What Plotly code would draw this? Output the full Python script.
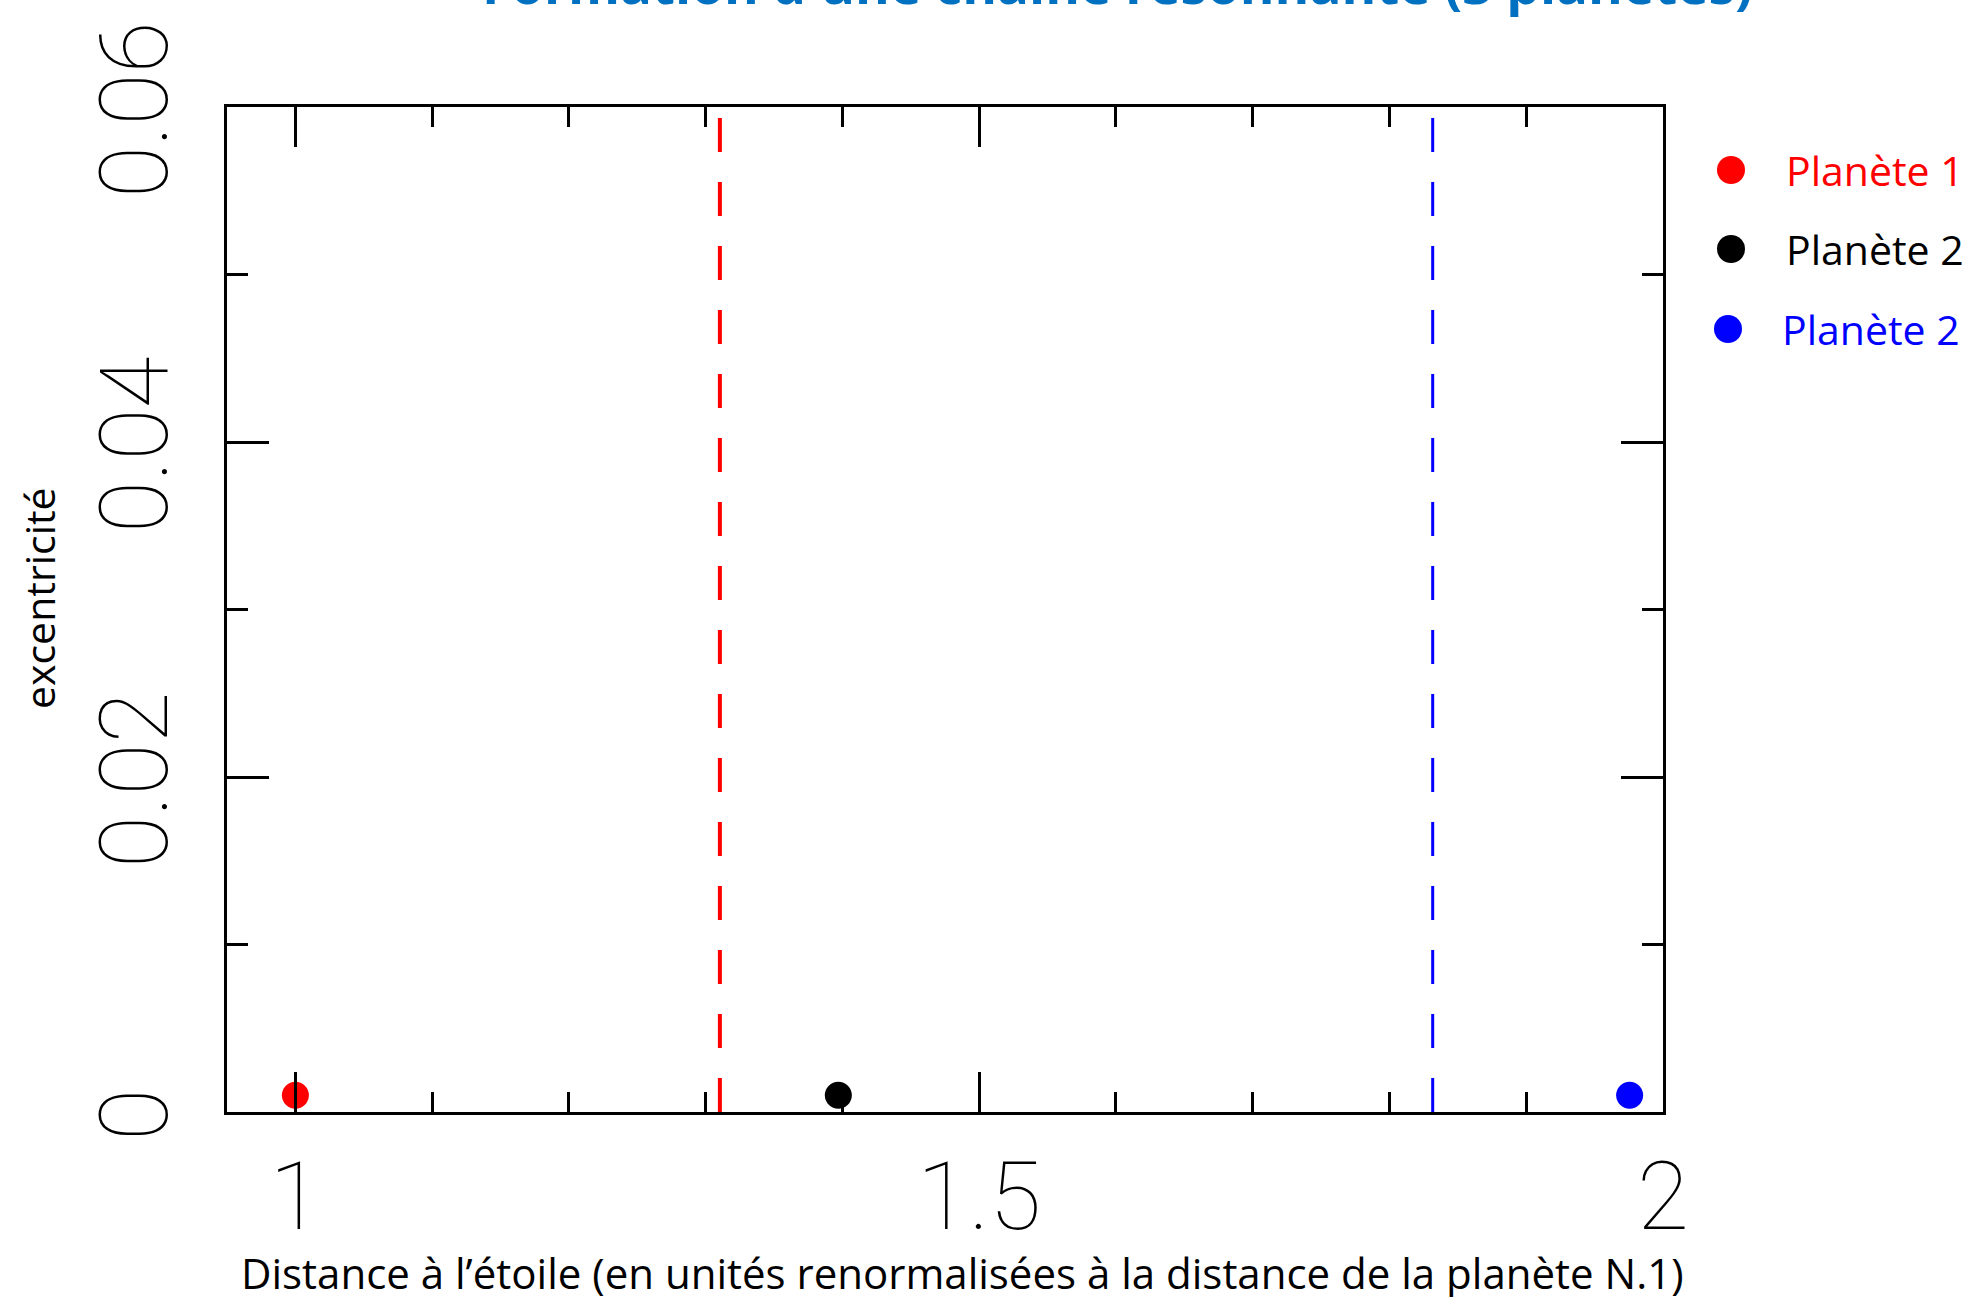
import plotly.graph_objects as go

# ---- data ----
planet_names = ["Planète 1", "Planète 2", "Planète 2"]
planet_colors = ["#FF0000", "#000000", "#0000FF"]
planet_distance = [1.0, 1.397, 1.9756]
planet_ecc = [0.001, 0.001, 0.001]

resonance_x = [1.3104, 1.8316]
resonance_colors = ["#FF0000", "#0000FF"]
resonance_widths = [4, 3]
ecc_span = [0.0, 0.06]

x_tickvals = [1, 1.5, 2]
x_ticktext = ["1", "1.5", "2"]
y_tickvals = [0, 0.02, 0.04, 0.06]
y_ticktext = ["0", "0.02", "0.04", "0.06"]

title_text = "Formation d'une chaîne résonnante (3 planètes)"
x_title = "Distance à l’étoile (en unités renormalisées à la distance de la planète N.1)"
y_title = "excentricité"

W, H = 1975, 1297
ML, MR, MT, MB = 227, 312, 107, 185
PW = W - ML - MR
PH = H - MT - MB

def px_x(p):
    return (p - ML) / PW

def px_y(p):
    return (H - MB - p) / PH

fig = go.Figure()

for xr, c, w in zip(resonance_x, resonance_colors, resonance_widths):
    fig.add_trace(go.Scatter(
        x=[xr, xr], y=ecc_span, mode="lines",
        line=dict(color=c, width=w, dash="34px,30px"),
        showlegend=False, hoverinfo="skip"))

for name, c, xv, yv in zip(planet_names, planet_colors, planet_distance, planet_ecc):
    fig.add_trace(go.Scatter(
        x=[xv], y=[yv], mode="markers", name=name,
        marker=dict(color=c, size=27, line=dict(width=0)),
        showlegend=False, cliponaxis=False))

tick_font = dict(family="Roboto, Liberation Sans, sans-serif", size=95, color="black", weight=100)
label_font = "Open Sans, Lato, sans-serif"

fig.update_xaxes(
    range=[0.95, 2.0], tickvals=x_tickvals, ticktext=x_ticktext,
    ticks="inside", ticklen=40, tickwidth=3, tickcolor="black",
    minor=dict(tick0=1, dtick=0.1, ticks="inside", ticklen=20, tickwidth=3, tickcolor="black"),
    showline=True, linewidth=3, linecolor="black", mirror="ticks",
    showgrid=False, zeroline=False, automargin=False,
    tickfont=tick_font, ticklabelstandoff=0, ticklabeloverflow="allow",
)
fig.update_yaxes(
    range=[0, 0.06], tickvals=y_tickvals, ticktext=y_ticktext, tickangle=-90,
    ticks="inside", ticklen=42, tickwidth=3, tickcolor="black",
    minor=dict(tick0=0, dtick=0.01, ticks="inside", ticklen=21, tickwidth=3, tickcolor="black"),
    showline=True, linewidth=3, linecolor="black", mirror="ticks",
    showgrid=False, zeroline=False, automargin=False,
    tickfont=tick_font, ticklabelstandoff=19, ticklabelshift=17, ticklabeloverflow="allow",
)

annotations = [
    dict(text="<b>" + title_text + "</b>", xref="paper", yref="paper",
         x=px_x(1117), y=px_y(22), xanchor="center", yanchor="bottom", showarrow=False,
         font=dict(family=label_font, size=53, color="#0070C0")),
    dict(text=x_title, xref="paper", yref="paper",
         x=px_x(962), y=px_y(1272), xanchor="center", yanchor="middle", showarrow=False,
         font=dict(family=label_font, size=42, color="black")),
    dict(text=y_title, xref="paper", yref="paper", textangle=-90,
         x=px_x(39), y=px_y(598), xanchor="center", yanchor="middle", showarrow=False,
         font=dict(family=label_font, size=41, color="black")),
]

shapes = []
leg_marker_x = [1731, 1731, 1728]
leg_y = [170, 249, 329]
leg_text_x = [1784, 1784, 1780]
for name, c, mx, my, tx in zip(planet_names, planet_colors, leg_marker_x, leg_y, leg_text_x):
    shapes.append(dict(type="circle", xref="paper", yref="paper",
                       xsizemode="pixel", ysizemode="pixel",
                       xanchor=px_x(mx), yanchor=px_y(my),
                       x0=-14, x1=14, y0=-14, y1=14,
                       fillcolor=c, line=dict(width=0)))
    annotations.append(dict(text=name, xref="paper", yref="paper",
                            x=px_x(tx), y=px_y(my), xanchor="left", yanchor="middle",
                            showarrow=False,
                            font=dict(family=label_font, size=41, color=c)))

fig.update_layout(
    width=W, height=H,
    margin=dict(l=ML, r=MR, t=MT, b=MB, pad=0, autoexpand=False),
    paper_bgcolor="white", plot_bgcolor="white",
    showlegend=False,
    annotations=annotations, shapes=shapes,
)

fig.write_html("out.html")
